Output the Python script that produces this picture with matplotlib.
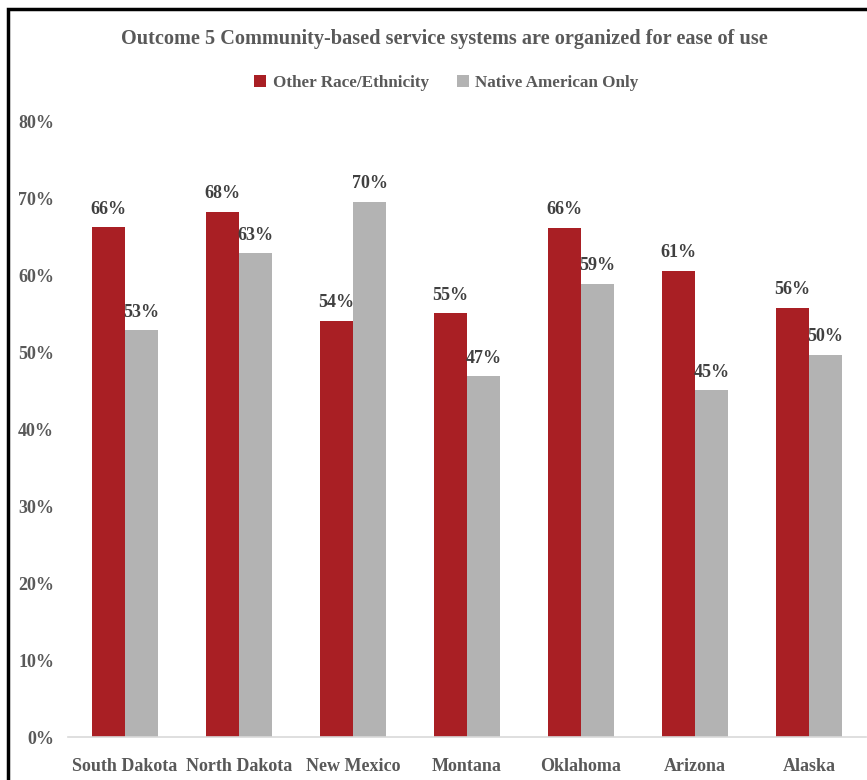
import matplotlib.pyplot as plt
import numpy as np
from matplotlib.patches import Rectangle
from matplotlib.ticker import PercentFormatter

states = ["South Dakota", "North Dakota", "New Mexico", "Montana", "Oklahoma", "Arizona", "Alaska"]
other_race = [66.3, 68.3, 54.1, 55.1, 66.2, 60.6, 55.8]
native_only = [52.9, 62.9, 69.6, 46.9, 58.9, 45.1, 49.7]
yticks = [0, 10, 20, 30, 40, 50, 60, 70, 80]

red = "#A91F24"
grey = "#B3B3B3"
txt = "#595959"

plt.rcParams["font.family"] = ["Liberation Serif", "DejaVu Serif"]
plt.rcParams["font.weight"] = "bold"

fig = plt.figure(figsize=(8.67, 7.8), dpi=100)
ax = fig.add_axes([68 / 867, 43 / 780, 798 / 867, 615 / 780])

x = np.arange(len(states))
w = 0.29
b1 = ax.bar(x - w / 2, other_race, w, color=red, label="Other Race/Ethnicity")
b2 = ax.bar(x + w / 2, native_only, w, color=grey, label="Native American Only")

for bars, vals in [(b1, other_race), (b2, native_only)]:
    for bar, v in zip(bars, vals):
        ax.annotate(f"{round(v)}%", (bar.get_x() + bar.get_width() / 2, v),
                    xytext=(0, 7), textcoords="offset points", ha="center", va="bottom",
                    fontsize=13, color="#404040", fontweight="bold")

ax.set_xlim(-0.5, len(states) - 0.5)
ax.set_ylim(0, 80)
ax.set_yticks(yticks)
ax.yaxis.set_major_formatter(PercentFormatter(decimals=0))
ax.set_xticks(x)
ax.set_xticklabels(states)
ax.tick_params(axis="both", length=0, labelsize=13, labelcolor=txt)
ax.tick_params(axis="y", pad=10)
ax.tick_params(axis="x", pad=15)
for s in ["top", "right", "left"]:
    ax.spines[s].set_visible(False)
ax.spines["bottom"].set_color("#D9D9D9")
ax.spines["bottom"].set_linewidth(1.2)

fig.text(0.513, 1 - 39 / 780, "Outcome 5 Community-based service systems are organized for ease of use",
         ha="center", va="center", fontsize=14.6, color=txt, fontweight="bold")
fig.legend(handles=[b1, b2], loc="center", bbox_to_anchor=(0.515, 1 - 83 / 780), ncol=2,
           frameon=False, fontsize=12.3, handlelength=0.7, handleheight=0.7, handletextpad=0.4,
           columnspacing=1.6, labelcolor=txt)

# border of the cropped screenshot
fig.patches.append(Rectangle((8 / 867, -0.1), 1.2, 1 - 9 / 780 + 0.1, transform=fig.transFigure,
                             fill=False, edgecolor="black", linewidth=2.5))

fig.savefig("out.png", dpi=100)
